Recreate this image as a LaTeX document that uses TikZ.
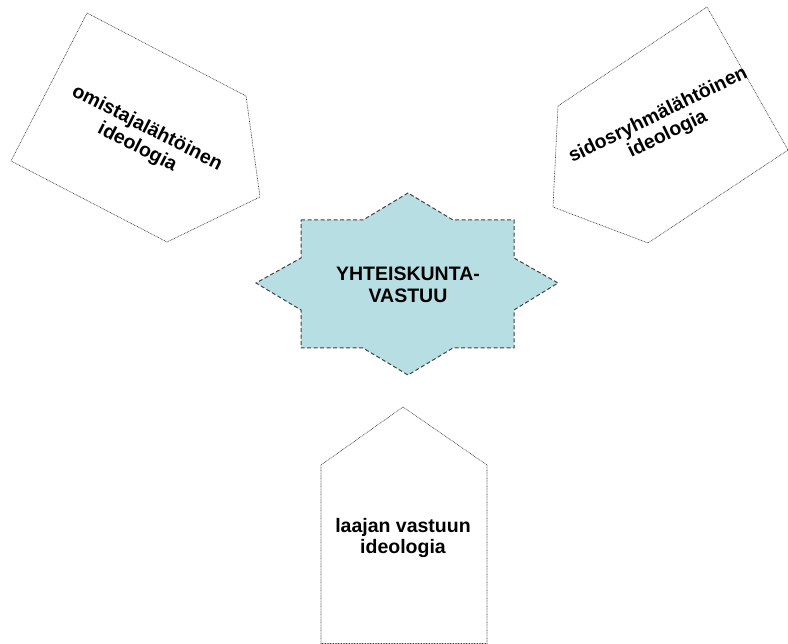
\documentclass[tikz,border=0pt]{standalone}
\usepackage{fontspec}
\setmainfont{Liberation Sans}
\begin{document}
\begin{tikzpicture}[x=1pt,y=-1pt,
  penta/.style={draw=black!80,line width=0.6pt,dash pattern=on 0.8pt off 0.8pt},
  starshape/.style={draw=black!75,line width=1pt,dash pattern=on 4pt off 2.5pt,fill=starfill},
  lbl/.style={font=\bfseries\fontsize{19.5}{21.5}\selectfont,align=center,inner sep=0pt}]
\definecolor{starfill}{HTML}{B7DFE3}
\useasboundingbox (0,0) rectangle (788,644);
% left pentagon
\draw[penta] (87,13) -- (246,96) -- (260,197) -- (167,242) -- (11,161) -- cycle;
% right pentagon
\draw[penta] (707,7) -- (788,150) -- (648,243) -- (553,207) -- (558,106) -- cycle;
% bottom house
\draw[penta] (403,407) -- (487,465) -- (487,643.5) -- (321,643.5) -- (321,465) -- cycle;
% star
\draw[starshape] (301,220) -- (363,220) -- (408,193) -- (453,220) -- (514,220)
  -- (514,258) -- (558,283) -- (514,310) -- (514,348)
  -- (453,348) -- (408,375) -- (363,348) -- (301,348)
  -- (301,310) -- (256,283) -- (301,258) -- cycle;
\node[lbl] (center) at (408,285) {YHTEISKUNTA-\\VASTUU};
\node[lbl,rotate=-27] (left) at (142,138) {omistajalähtöinen\\ideologia};
\node[lbl,rotate=26] (right) at (663,125) {sidosryhmälähtöinen\\ideologia};
\node[lbl] (bottom) at (403,538) {laajan vastuun\\ideologia};
\end{tikzpicture}
\end{document}
